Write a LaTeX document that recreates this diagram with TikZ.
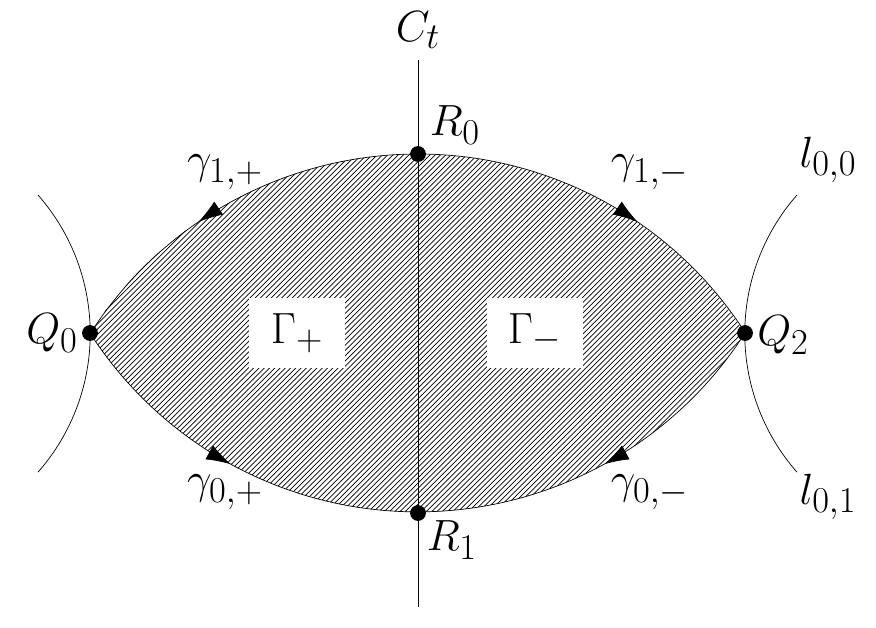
\documentclass[tikz,border=0pt]{standalone}
\usepackage{amsmath}
\usetikzlibrary{patterns, arrows.meta, decorations.markings}
\tikzset{
    dotnode/.style={circle, fill, inner sep=0pt, minimum size=9pt},
    lbl/.style={font=\Huge},
    flowarc/.style={thin, postaction={decorate}, decoration={markings,
        mark=at position #1 with {\arrow{Latex[length=14pt,width=9pt]}}}},
    flowarc/.default=0.5
}
\begin{document}
\begin{tikzpicture}[x=0.02cm, y=0.02cm]
    \useasboundingbox (0,0) rectangle (876,627);
    % points
    \coordinate (Q0) at (90,294);
    \coordinate (Q2) at (745,294);
    \coordinate (R0) at (418,473);
    \coordinate (R1) at (418,114);
    \coordinate (ctop) at (418,567);
    \coordinate (cbot) at (418,20);

    % shaded region
    \fill[pattern=north east lines] (Q0) arc[start angle=147.3, end angle=32.7, radius=389]
        arc[start angle=-32.7, end angle=-147.3, radius=389] -- cycle;
    \node[fill=white, minimum width=96*0.02cm, minimum height=70*0.02cm, lbl] (gp) at (297,294) {$\Gamma_+$};
    \node[fill=white, minimum width=96*0.02cm, minimum height=70*0.02cm, lbl] (gm) at (535,294) {$\Gamma_-$};

    % the line C_t
    \draw (ctop) -- (cbot);

    % the four arcs
    \draw[flowarc=0.6] (R0) arc[start angle=90, end angle=147.3, radius=389];
    \draw[flowarc=0.6] (R0) arc[start angle=90, end angle=32.7, radius=389];
    \draw[flowarc] (Q0) arc[start angle=-147.3, end angle=-90, radius=389];
    \draw[flowarc] (Q2) arc[start angle=-32.7, end angle=-90, radius=389];

    % curves l
    \draw (38,432) arc[start angle=41.3, end angle=-41.3, radius=210];
    \draw (797,432) arc[start angle=138.7, end angle=221.3, radius=210];

    % dots
    \foreach \p in {Q0, Q2, R0, R1} \node[dotnode] at (\p) {};

    % labels
    \node[lbl] (ct) at (418,597) {$C_t$};
    \node[lbl] (r0) at (455,502) {$R_0$};
    \node[lbl] (r1) at (452,87) {$R_1$};
    \node[lbl] (q0) at (52,294) {$Q_0$};
    \node[lbl] (q2) at (783,292) {$Q_2$};
    \node[lbl] (g1p) at (225,455) {$\gamma_{1,+}$};
    \node[lbl] (g1m) at (650,455) {$\gamma_{1,-}$};
    \node[lbl] (g0p) at (225,135) {$\gamma_{0,+}$};
    \node[lbl] (g0m) at (650,135) {$\gamma_{0,-}$};
    \node[lbl] (l00) at (828,467) {$l_{0,0}$};
    \node[lbl] (l01) at (828,130) {$l_{0,1}$};
\end{tikzpicture}
\end{document}
